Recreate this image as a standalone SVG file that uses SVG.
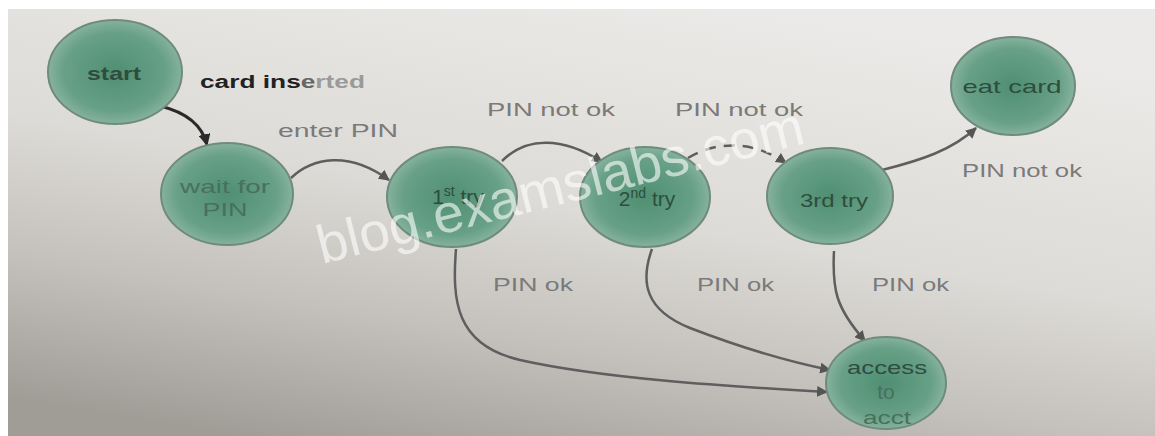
<svg xmlns="http://www.w3.org/2000/svg" width="1155" height="436" viewBox="0 0 1155 436">
  <defs>
    <linearGradient id="bg" x1="0.65" y1="0" x2="0.2" y2="1">
      <stop offset="0" stop-color="#eceae8"/>
      <stop offset="0.45" stop-color="#dddbd7"/>
      <stop offset="0.72" stop-color="#c4c1bc"/>
      <stop offset="1" stop-color="#a09c96"/>
    </linearGradient>
    <radialGradient id="nodefill" cx="0.5" cy="0.5" r="0.5">
      <stop offset="0" stop-color="#4f8f72"/>
      <stop offset="0.75" stop-color="#67a086"/>
      <stop offset="1" stop-color="#86b29e"/>
    </radialGradient>
    <marker id="ah" viewBox="0 0 10 10" refX="9" refY="5" markerWidth="11" markerHeight="11" markerUnits="userSpaceOnUse" orient="auto">
      <path d="M0,0 L10,5 L0,10 z" fill="#555"/>
    </marker>
    <marker id="ahd" viewBox="0 0 10 10" refX="9" refY="5" markerWidth="12" markerHeight="12" markerUnits="userSpaceOnUse" orient="auto">
      <path d="M0,0 L10,5 L0,10 z" fill="#2a2a2a"/>
    </marker>
    <style>
      .node { fill: url(#nodefill); stroke: #6f8b7d; stroke-width: 2; }
      .nl { font-family: "Liberation Sans", Arial, sans-serif; font-size: 19px; fill: #2e4d3f; text-anchor: middle; }
      .nl2 { fill: #48705c; }
      .big { font-size: 21px; }
      .sup { font-size: 14px; }
      .edge { fill: none; stroke: #5e5e5e; stroke-width: 2.5; marker-end: url(#ah); }
      .lbl { font-family: "Liberation Sans", Arial, sans-serif; font-size: 18px; fill: #7a7a7a; }
      .wm { font-family: "Liberation Sans", Arial, sans-serif; font-size: 54px; fill: #ffffff; fill-opacity: 0.6; }
    </style>
  </defs>

  <rect x="0" y="0" width="1155" height="436" fill="#ffffff"/>
  <rect x="8" y="9" width="1147" height="427" fill="url(#bg)"/>

  <g id="connectors">
    <path d="M160,106 C185,112 202,124 207,145" fill="none" stroke="#2a2a2a" stroke-width="3" marker-end="url(#ahd)"/>
    <path class="edge" d="M291,178 C312,158 348,150 389,180"/>
    <path class="edge" d="M502,161 C526,137 562,136 602,162"/>
    <path class="edge" d="M688,158 C716,141 752,140 786,163" stroke="#7a7a7a" stroke-dasharray="11,8"/>
    <path class="edge" d="M882,170 C922,160 952,150 976,128" stroke="#444"/>
    <path class="edge" d="M456,249 C452,300 455,345 520,360 C600,378 720,386 827,392" stroke="#6e6e6e"/>
    <path class="edge" d="M652,249 C640,282 645,310 690,328 C742,348 790,362 830,370" stroke="#5a5a5a"/>
    <path class="edge" d="M834,251 C832,290 836,308 865,341" stroke="#4e4e4e"/>
    <text class="lbl" x="200" y="88" textLength="165" lengthAdjust="spacingAndGlyphs" font-weight="bold"><tspan fill="#222">card ins</tspan><tspan fill="#666">e</tspan><tspan fill="#9a9a9a">rted</tspan></text>
    <text class="lbl" x="278" y="137" textLength="120" lengthAdjust="spacingAndGlyphs">enter PIN</text>
    <text class="lbl" x="487" y="116" textLength="128" lengthAdjust="spacingAndGlyphs">PIN not ok</text>
    <text class="lbl" x="675" y="116" textLength="128" lengthAdjust="spacingAndGlyphs">PIN not ok</text>
    <text class="lbl" x="962" y="177" textLength="120" lengthAdjust="spacingAndGlyphs">PIN not ok</text>
    <text class="lbl" x="493" y="291" textLength="80" lengthAdjust="spacingAndGlyphs">PIN ok</text>
    <text class="lbl" x="697" y="291" textLength="77" lengthAdjust="spacingAndGlyphs">PIN ok</text>
    <text class="lbl" x="872" y="291" textLength="77" lengthAdjust="spacingAndGlyphs">PIN ok</text>
  </g>

  <g id="node-start">
    <ellipse class="node" cx="115" cy="72" rx="67" ry="52"/>
    <text class="nl" x="114" y="80" font-weight="bold" textLength="54" lengthAdjust="spacingAndGlyphs">start</text>
  </g>
  <g id="node-wait">
    <ellipse class="node" cx="227" cy="194" rx="66" ry="51"/>
    <text class="nl nl2" x="225" y="193" textLength="90" lengthAdjust="spacingAndGlyphs">wait for</text>
    <text class="nl nl2" x="225" y="216" textLength="45" lengthAdjust="spacingAndGlyphs">PIN</text>
  </g>
  <g id="node-try1">
    <ellipse class="node" cx="452" cy="197" rx="65" ry="50"/>
    <text class="nl big" x="458" y="204">1<tspan class="sup" dy="-8">st</tspan><tspan dy="8"> try</tspan></text>
  </g>
  <g id="node-try2">
    <ellipse class="node" cx="645" cy="197" rx="65" ry="50"/>
    <text class="nl big" x="647" y="206">2<tspan class="sup" dy="-8">nd</tspan><tspan dy="8"> try</tspan></text>
  </g>
  <g id="node-try3">
    <ellipse class="node" cx="830" cy="196" rx="63" ry="48"/>
    <text class="nl" x="834" y="207" textLength="68" lengthAdjust="spacingAndGlyphs">3rd try</text>
  </g>
  <g id="node-eat">
    <ellipse class="node" cx="1013" cy="86" rx="62" ry="49"/>
    <text class="nl" x="1012" y="93" textLength="99" lengthAdjust="spacingAndGlyphs">eat card</text>
  </g>
  <g id="node-access">
    <ellipse class="node" cx="886" cy="383" rx="60" ry="46"/>
    <text class="nl" x="887" y="374" textLength="80" lengthAdjust="spacingAndGlyphs">access</text>
    <text class="nl nl2 big" x="886" y="399">to</text>
    <text class="nl nl2" x="887" y="424" textLength="48" lengthAdjust="spacingAndGlyphs">acct</text>
  </g>

  <text class="wm" x="322" y="264" transform="rotate(-14 322 264)" textLength="500" lengthAdjust="spacingAndGlyphs">blog.examslabs.com</text>
</svg>
